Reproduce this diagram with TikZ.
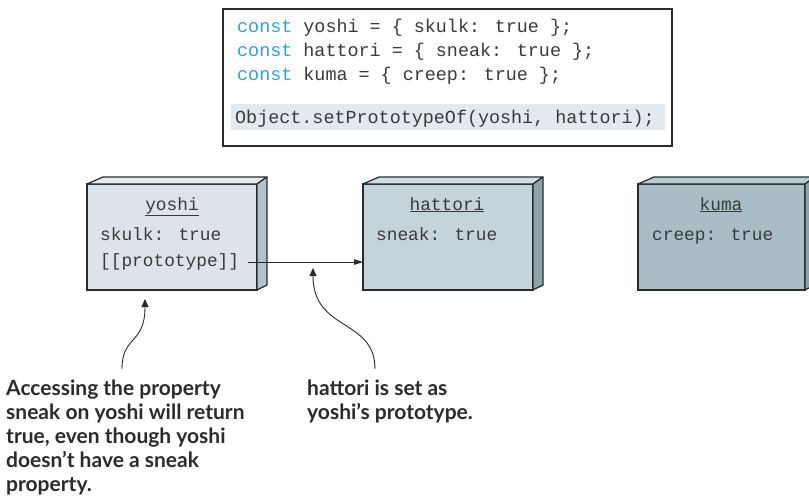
\documentclass[tikz,border=0pt]{standalone}
\usepackage{fontspec}
\newfontfamily\codefont{Liberation Mono}
\newfontfamily\notefont{Lato}
\usetikzlibrary{positioning,arrows.meta,calc}

\definecolor{boxline}{HTML}{2B2B2B}
\definecolor{codegray}{HTML}{3A3A3A}
\definecolor{kwblue}{HTML}{29A3DA}
\definecolor{hlfill}{HTML}{E2E9EF}
\definecolor{yoshifront}{HTML}{DCE3EA}
\definecolor{yoshitop}{HTML}{E6EBF0}
\definecolor{yoshiside}{HTML}{B4C2CC}
\definecolor{hattorifront}{HTML}{C5D3DA}
\definecolor{hattoritop}{HTML}{D2DDE3}
\definecolor{hattoriside}{HTML}{8FA3AD}
\definecolor{kumafront}{HTML}{AABDC6}
\definecolor{kumatop}{HTML}{BACAD2}
\definecolor{kumaside}{HTML}{8CA0AA}

\tikzset{
  panel/.style={draw=boxline, line width=1.2pt, anchor=north west, inner sep=0pt, outer sep=0pt,
    minimum width=449pt, minimum height=137pt},
  hilite/.style={fill=hlfill, anchor=north west, inner sep=0pt, minimum width=434pt, minimum height=26pt},
  codeline/.style={anchor=base west, inner sep=0pt, text=codegray, font=\codefont\fontsize{18.4}{22}\selectfont},
  objbox/.style={draw=boxline, line width=1.2pt, anchor=north west, inner sep=0pt, outer sep=0pt,
    minimum width=170pt, minimum height=106pt},
  face/.style={draw=boxline, line width=1.2pt, line join=round},
  proptext/.style={anchor=base west, inner sep=0pt, text=codegray, font=\codefont\fontsize{17.8}{22}\selectfont},
  note/.style={anchor=north west, align=left, inner sep=0pt, text=boxline,
    font=\notefont\bfseries\fontsize{21}{24}\selectfont},
  link/.style={draw=boxline, line width=0.9pt, -{Triangle[length=9pt,width=5.5pt]}},
  callout/.style={draw=boxline, line width=0.9pt, -{Triangle[length=8pt,width=7pt]}}
}

\begin{document}
\begin{tikzpicture}[x=1pt,y=-1pt]
\useasboundingbox (0,0) rectangle (809,503);

% the code
\node[panel] (code) at (223,9) {};
\node[hilite] (hl) at (231,104) {};
\node[codeline] (line1) at (237,33) {{\color{kwblue}const} yoshi = \{ skulk: true \};};
\node[codeline] (line2) at (237,57) {{\color{kwblue}const} hattori = \{ sneak: true \};};
\node[codeline] (line3) at (237,81) {{\color{kwblue}const} kuma = \{ creep: true \};};
\node[codeline] (line4) at (235,123) {Object.setPrototypeOf(yoshi, hattori);};

% yoshi
\node[objbox, fill=yoshifront] (yoshi) at (87,184) {};
\filldraw[face, fill=yoshitop] (yoshi.north west) -- ++(16,-7) -- ($(yoshi.north east)+(10,-7)$) -- (yoshi.north east) -- cycle;
\filldraw[face, fill=yoshiside] (yoshi.north east) -- ++(10,-7) -- ($(yoshi.south east)+(10,-5)$) -- (yoshi.south east) -- cycle;
\node[proptext, anchor=base] (yoshiname) at (172,210) {\underline{yoshi}};
\node[proptext] (skulk) at (100,240) {skulk: true};
\node[proptext] (proto) at (100,266) {[[prototype]]};

% hattori
\node[objbox, fill=hattorifront] (hattori) at (363,184) {};
\filldraw[face, fill=hattoritop] (hattori.north west) -- ++(16,-7) -- ($(hattori.north east)+(10,-7)$) -- (hattori.north east) -- cycle;
\filldraw[face, fill=hattoriside] (hattori.north east) -- ++(10,-7) -- ($(hattori.south east)+(10,-5)$) -- (hattori.south east) -- cycle;
\node[proptext, anchor=base] (hattoriname) at (447,210) {\underline{hattori}};
\node[proptext] (sneak) at (376,240) {sneak: true};

% kuma
\node[objbox, fill=kumafront, minimum width=167pt] (kuma) at (638,184) {};
\filldraw[face, fill=kumatop] (kuma.north west) -- ++(16,-7) -- ($(kuma.north east)+(10,-7)$) -- (kuma.north east) -- cycle;
\filldraw[face, fill=kumaside] (kuma.north east) -- ++(10,-7) -- ($(kuma.south east)+(10,-5)$) -- (kuma.south east) -- cycle;
\node[proptext, anchor=base] (kumaname) at (721,210) {\underline{kuma}};
\node[proptext] (creep) at (652,240) {creep: true};

% prototype link
\coordinate (protoout) at (248,262);
\draw[link] (protoout) -- (protoout -| hattori.west);

% notes
\node[note] (sneaknote) at (6,380) {Accessing the property\\sneak on yoshi will return\\true, even though yoshi\\doesn’t have a sneak\\property.};
\node[note] (setnote) at (307,380) {hattori is set as\\yoshi’s prototype.};

\coordinate (sneakfoot) at (122,369);
\coordinate (sneaktip) at (145,299);
\coordinate (setfoot) at (375,369);
\coordinate (settip) at (313,268);
\draw[callout] (sneakfoot) .. controls (122,335) and (145,345) .. (sneaktip);
\draw[callout] (setfoot) .. controls (375,318) and (313,332) .. (settip);
\end{tikzpicture}
\end{document}
